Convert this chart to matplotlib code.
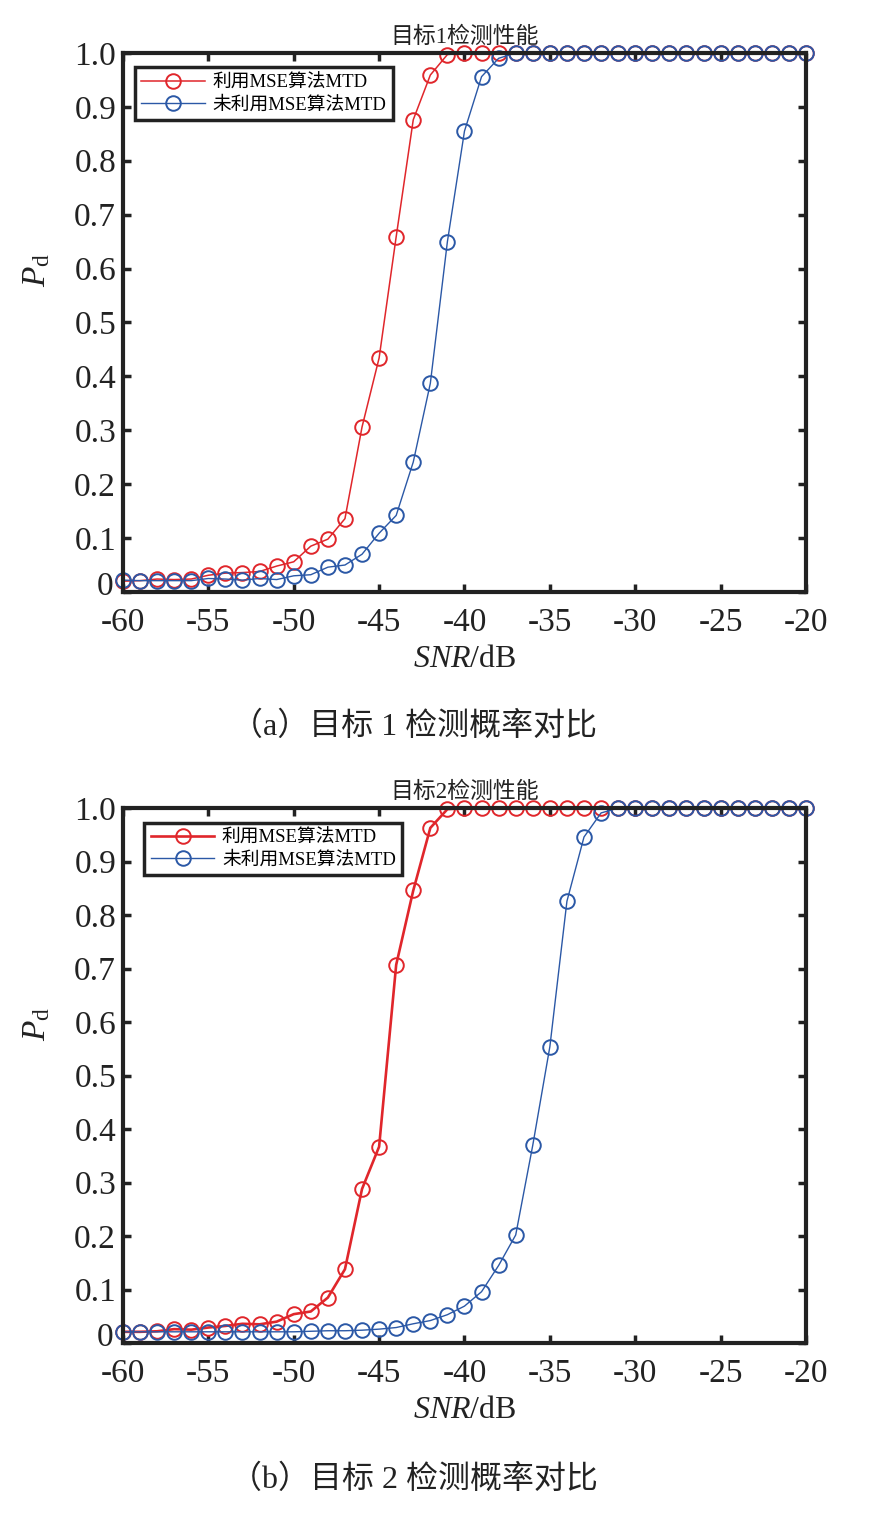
import numpy as np
import matplotlib
matplotlib.use('Agg')
import matplotlib.pyplot as plt
from matplotlib.transforms import ScaledTranslation

plt.rcParams['font.family'] = ['Liberation Serif', 'Noto Sans CJK SC']
plt.rcParams['mathtext.fontset'] = 'custom'
plt.rcParams['mathtext.rm'] = 'Liberation Serif'
plt.rcParams['mathtext.it'] = 'Liberation Serif:italic'

snr = list(range(-60, -19))

# target 1
t1_mse = [0.020, 0.021, 0.024, 0.023, 0.024, 0.031, 0.035, 0.036, 0.038, 0.048,
          0.056, 0.085, 0.098, 0.136, 0.306, 0.434, 0.659, 0.876, 0.959, 0.997] + [1.0] * 21
t1_nomse = [0.022, 0.021, 0.021, 0.021, 0.021, 0.025, 0.024, 0.022, 0.025, 0.023,
            0.030, 0.032, 0.046, 0.050, 0.070, 0.109, 0.142, 0.241, 0.387, 0.650,
            0.855, 0.956, 0.990] + [1.0] * 18

# target 2
t2_mse = [0.021, 0.021, 0.022, 0.026, 0.025, 0.029, 0.032, 0.036, 0.035, 0.040,
          0.054, 0.059, 0.085, 0.138, 0.288, 0.367, 0.707, 0.846, 0.963, 0.998] + [1.0] * 21
t2_nomse = [0.021] * 11 + [0.022, 0.023, 0.023, 0.024, 0.026, 0.029, 0.036, 0.042, 0.053,
            0.069, 0.096, 0.145, 0.202, 0.370, 0.554, 0.826, 0.946, 0.991] + [1.0] * 12

labels = ['利用MSE算法MTD', '未利用MSE算法MTD']
titles = ['目标1检测性能', '目标2检测性能']
captions = ['（a）目标 1 检测概率对比', '（b）目标 2 检测概率对比']
xticks = [-60, -55, -50, -45, -40, -35, -30, -25, -20]
yticks = [0, 0.1, 0.2, 0.3, 0.4, 0.5, 0.6, 0.7, 0.8, 0.9, 1.0]
ytick_labels = ['0', '0.1', '0.2', '0.3', '0.4', '0.5', '0.6', '0.7', '0.8', '0.9', '1.0']

red = '#e0262b'
blue = '#2b58a6'
ink = '#222222'

fig = plt.figure(figsize=(8.69, 15.21), dpi=100)
ax1 = fig.add_axes([0.1415, 0.6108, 0.786, 0.3544])
ax2 = fig.add_axes([0.1415, 0.1170, 0.786, 0.3517])

series = [(t1_mse, t1_nomse, 1.1), (t2_mse, t2_nomse, 1.9)]
legend_x = [0.017, 0.031]
for i, ax in enumerate([ax1, ax2]):
    a, b, lw_red = series[i]
    ax.plot(snr, a, '-o', color=red, lw=lw_red, ms=10.5, mew=1.4, mfc='none',
            clip_on=False, label=labels[0])
    ax.plot(snr, b, '-o', color=blue, lw=1.0, ms=10.5, mew=1.4, mfc='none',
            clip_on=False, label=labels[1])
    ax.set_xlim(-60, -20)
    ax.set_ylim(0, 1)
    ax.set_xticks(xticks)
    ax.set_xticklabels([str(t) for t in xticks])
    ax.set_yticks(yticks)
    ax.set_yticklabels(ytick_labels)
    ax.tick_params(direction='in', length=6, width=2.5, top=True, right=True,
                   labelsize=24, colors=ink)
    ax.tick_params(axis='x', pad=11)
    ax.tick_params(axis='y', pad=5)
    # the "0" label sits a little higher in the original
    zero = ax.get_yticklabels()[0]
    zero.set_transform(zero.get_transform() + ScaledTranslation(-2 / 72, 6 / 72, fig.dpi_scale_trans))
    for s in ax.spines.values():
        s.set_linewidth(3)
        s.set_color(ink)
    ax.set_title(titles[i], fontsize=16.5, pad=7, color=ink)
    ax.set_xlabel(r'$\mathit{SNR}$/dB', fontsize=23, labelpad=5, color=ink)
    ax.set_ylabel(r'$P_{\mathrm{d}}$', fontsize=24, color=ink)
    ax.yaxis.set_label_coords(-0.104, 0.597)
    leg = ax.legend(loc='upper left', bbox_to_anchor=(legend_x[i], 0.973),
                    borderaxespad=0, fontsize=13.5, handlelength=3.4, fancybox=False,
                    framealpha=1, borderpad=0.35, labelspacing=0.25, handletextpad=0.4)
    leg.get_frame().set_edgecolor(ink)
    leg.get_frame().set_linewidth(2.5)

fig.text(0.476, 1 - 727 / 1521, captions[0], fontsize=23, ha='center', va='center',
         color=ink)
fig.text(0.476, 1 - 1480 / 1521, captions[1], fontsize=23, ha='center', va='center',
         color=ink)

fig.savefig('out.png', dpi=100)
